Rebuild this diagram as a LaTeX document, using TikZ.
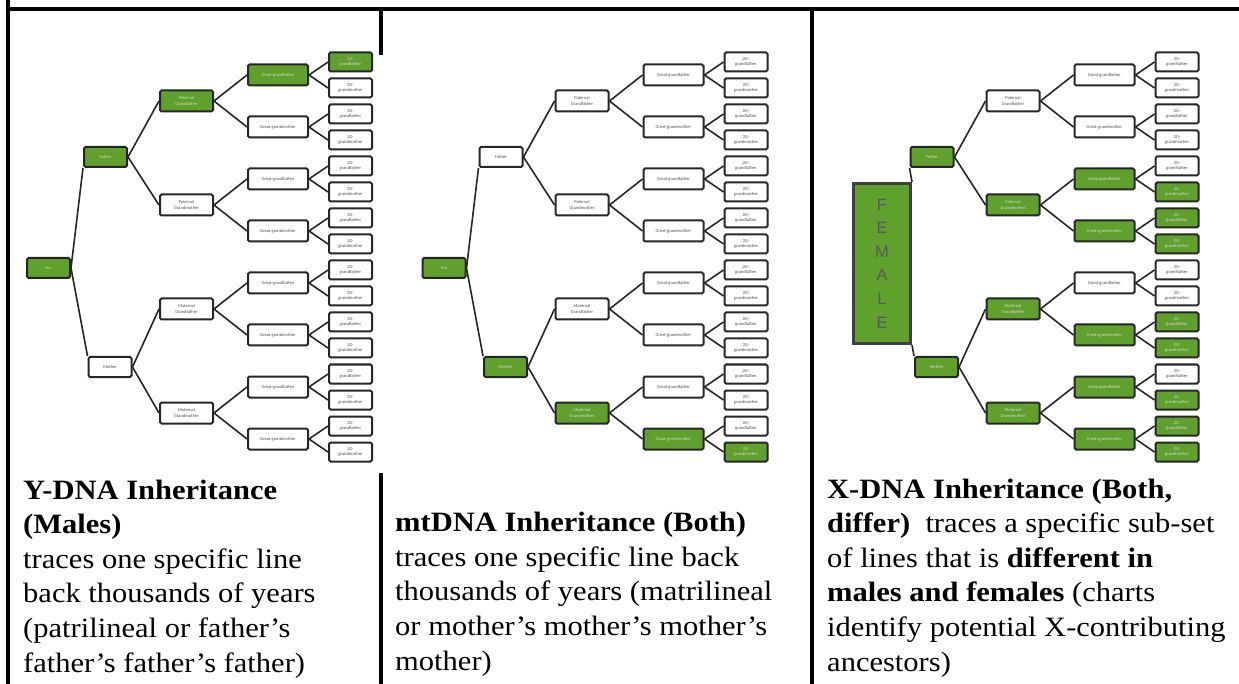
\documentclass[tikz,border=0pt]{standalone}
\usepackage{fontspec}
\setmainfont{Liberation Serif}[FakeStretch=1.09]
\newfontfamily\boxfont{Carlito}
\newfontfamily\tagfont{Liberation Sans}
\definecolor{dnagreen}{HTML}{60A02D}

\begin{document}
\begin{tikzpicture}[x=1pt,y=-1pt]
  \tikzset{
    every node/.style={inner sep=0pt},
    person/.style={draw=black!85,line width=2pt,rounded corners=1.5pt,fill=white,
      align=center,font=\boxfont\fontsize{4.5}{5.2}\selectfont,text=black!70},
    lit/.style={fill=dnagreen,text=white!85!black},
    youbox/.style={person,minimum width=43pt,minimum height=20pt},
    parbox/.style={person,minimum width=43pt,minimum height=20pt},
    gpbox/.style={person,minimum width=53pt,minimum height=21pt},
    ggpbox/.style={person,minimum width=60pt,minimum height=21pt},
    leafbox/.style={person,minimum width=43pt,minimum height=19pt},
    femalebox/.style={draw=black!75,line width=3pt,fill=dnagreen,minimum width=57pt,
      minimum height=160pt,align=center,font=\tagfont\fontsize{16.5}{23.6}\selectfont,text=black!65},
    famline/.style={line width=1.6pt,draw=black!85},
    tablerule/.style={line width=4pt},
    captext/.style={anchor=base west,align=left,font=\fontsize{28}{34.6}\selectfont},
    % Y-DNA line
    on a-r/.style=lit, on a1-0/.style=lit, on a2-0/.style=lit, on a3-0/.style=lit, on a4-0/.style=lit,
    % mtDNA line
    on b-r/.style=lit, on b1-1/.style=lit, on b2-3/.style=lit, on b3-7/.style=lit, on b4-15/.style=lit,
    % X-DNA lines
    on c1-0/.style=lit, on c2-1/.style=lit, on c3-2/.style=lit, on c3-3/.style=lit,
    on c4-5/.style=lit, on c4-6/.style=lit, on c4-7/.style=lit,
    on c1-1/.style=lit, on c2-2/.style=lit, on c2-3/.style=lit, on c3-5/.style=lit,
    on c3-6/.style=lit, on c3-7/.style=lit, on c4-10/.style=lit, on c4-11/.style=lit,
    on c4-13/.style=lit, on c4-14/.style=lit, on c4-15/.style=lit
  }
  \useasboundingbox (0,0) rectangle (1239,684);

  % table
  \draw[tablerule] (8,0) -- (8,684);
  \draw[tablerule] (6,9) -- (1239,9);
  \draw[tablerule] (380.5,9) -- (380.5,55) (380.5,473) -- (380.5,684);
  \draw[tablerule] (812,9) -- (812,684);

  \node[youbox, on a-r/.try] (a-r) at (48.5,268) {You};
  \node[youbox, on b-r/.try] (b-r) at (444,268) {You};
  \node[femalebox] (c-r) at (882,263.5) {F\\E\\M\\A\\L\\E};

  \foreach \p/\x in {a/0, b/395.5, c/826.5}{
    \node[parbox, on \p1-0/.try] (\p1-0) at (\x+105.5,157) {Father};
    \node[parbox, on \p1-1/.try] (\p1-1) at (\x+110,367) {Mother};
    \foreach \k/\t in {0/Paternal\\Grandfather, 1/Paternal\\Grandmother,
                       2/Maternal\\Grandfather, 3/Maternal\\Grandmother}
      \node[gpbox, on \p2-\k/.try] (\p2-\k) at (\x+186.5,101+104*\k) {\t};
    \foreach \k in {0,...,7}
      \node[ggpbox, on \p3-\k/.try] (\p3-\k) at (\x+278,75+52*\k)
        {Great-grand\ifodd\k mother\else father\fi};
    \foreach \k in {0,...,15}
      \node[leafbox, on \p4-\k/.try] (\p4-\k) at (\x+350.5,62+26*\k)
        {2G-\\grand\ifodd\k mother\else father\fi};

    \foreach \l/\n in {2/3, 3/7, 4/15}{
      \pgfmathtruncatemacro\u{\l-1}
      \foreach \k in {0,...,\n}{
        \pgfmathtruncatemacro\m{\k/2}
        \draw[famline] (\p\u-\m.east) -- (\p\l-\k.west);
      }
    }
  }

  \draw[famline] (a-r.east) -- (a1-0.south west) (a-r.east) -- (a1-1.north west);
  \draw[famline] (b-r.east) -- (b1-0.south west) (b-r.east) -- (b1-1.north west);
  \draw[famline] (c-r.north east) -- (c1-0.south west) (c-r.south east) -- (c1-1.north west);

  % captions, placed by their last baseline
  \node[captext] (a-cap) at (23,672) {\textbf{Y-DNA Inheritance}\\\textbf{(Males)}\\
    traces one specific line\\back thousands of years\\(patrilineal or father’s\\
    father’s father’s father)};
  \node[captext] (b-cap) at (395,670) {\textbf{mtDNA Inheritance (Both)}\\
    traces one specific line back\\thousands of years (matrilineal\\
    or mother’s mother’s mother’s\\mother)};
  \node[captext] (c-cap) at (827,671) {\textbf{X-DNA Inheritance (Both,}\\
    \textbf{differ)}~ traces a specific sub-set\\of lines that is \textbf{different in}\\
    \textbf{males and females} (charts\\identify potential X-contributing\\ancestors)};
\end{tikzpicture}
\end{document}
